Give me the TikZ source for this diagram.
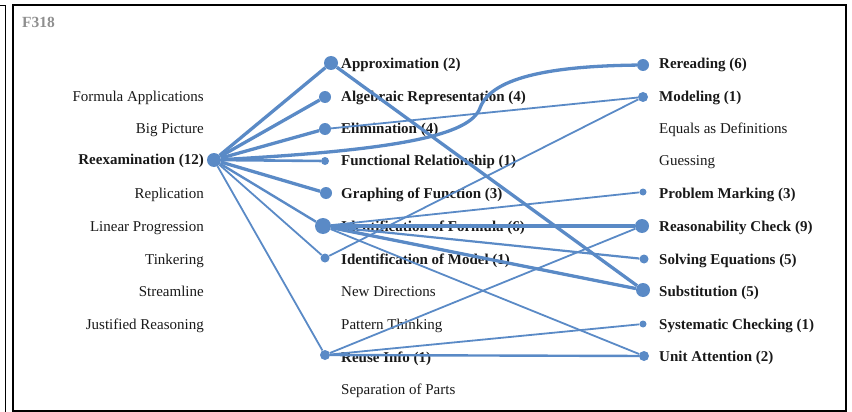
\documentclass[tikz,border=0pt]{standalone}
\usepackage{fontspec}
\setmainfont{Liberation Serif}
\usetikzlibrary{positioning}
\definecolor{cLink}{HTML}{5A8AC6}
\definecolor{cTag}{HTML}{8F8F8F}

\begin{document}
\begin{tikzpicture}[x=1pt, y=-1pt,
    lbl/.style={inner sep=0pt, yshift=-2.5pt, font=\fontsize{15}{17}\selectfont, text=black!90},
    lblL/.style={lbl, anchor=mid east},
    lblR/.style={lbl, anchor=mid west},
    hit/.style={font=\fontsize{15}{17}\selectfont\bfseries},
    dot/.style={circle, fill=cLink, inner sep=0pt, minimum size=#1},
    lnk/.style={draw=cLink, line width=1.8pt},
    lnkb/.style={draw=cLink, line width=3.3pt}
]
\useasboundingbox (0,0) rectangle (852,412);
% frames
\draw[line width=1.4pt] (0,5.5) -- (5.5,5.5) -- (5.5,412);
\draw[line width=2pt] (12.5,411) |- (846,5.5) -- (846,411) -- cycle;
\node[lblR, font=\fontsize{15.5}{17}\selectfont\bfseries, text=cTag] (tag) at (22,23) {F318};

% left column
\node[lblL] (fapp) at (204,97)  {Formula Applications};
\node[lblL] (bigp) at (204,129) {Big Picture};
\node[lblL, hit] (reexT) at (204,160) {Reexamination (12)};
\node[lblL] (repl) at (204,194) {Replication};
\node[lblL] (linp) at (204,227) {Linear Progression};
\node[lblL] (tink) at (204,260) {Tinkering};
\node[lblL] (strm) at (204,292) {Streamline};
\node[lblL] (just) at (204,325) {Justified Reasoning};

% middle column
\node[lblR, hit] (apprT) at (341,64)  {Approximation (2)};
\node[lblR, hit] (algT)  at (341,97)  {Algebraic Representation (4)};
\node[lblR, hit] (elimT) at (341,129) {Elimination (4)};
\node[lblR, hit] (funcT) at (341,161) {Functional Relationship (1)};
\node[lblR, hit] (grafT) at (341,194) {Graphing of Function (3)};
\node[lblR, hit] (idfT)  at (341,227) {Identification of Formula (6)};
\node[lblR, hit] (idmT)  at (341,260) {Identification of Model (1)};
\node[lblR] (newd) at (341,292) {New Directions};
\node[lblR] (patt) at (341,325) {Pattern Thinking};
\node[lblR, hit] (reuT)  at (341,358) {Reuse Info (1)};
\node[lblR] (sepp) at (341,390) {Separation of Parts};

% right column
\node[lblR, hit] (rereT) at (659,64)  {Rereading (6)};
\node[lblR, hit] (modT)  at (659,97)  {Modeling (1)};
\node[lblR] (eqdf) at (659,129) {Equals as Definitions};
\node[lblR] (gues) at (659,161) {Guessing};
\node[lblR, hit] (probT) at (659,194) {Problem Marking (3)};
\node[lblR, hit] (reasT) at (659,227) {Reasonability Check (9)};
\node[lblR, hit] (solvT) at (659,260) {Solving Equations (5)};
\node[lblR, hit] (subsT) at (659,292) {Substitution (5)};
\node[lblR, hit] (systT) at (659,325) {Systematic Checking (1)};
\node[lblR, hit] (unitT) at (659,357) {Unit Attention (2)};

% dots
\node[dot=14pt] (reex) at (214,160) {};
\node[dot=14pt] (appr) at (331,63)  {};
\node[dot=12pt] (alg)  at (325,97)  {};
\node[dot=12pt] (elim) at (325,129) {};
\node[dot=8pt]  (func) at (325,161) {};
\node[dot=12pt] (graf) at (326,193) {};
\node[dot=16pt] (idf)  at (323,226) {};
\node[dot=9pt]  (idm)  at (325,258) {};
\node[dot=10pt] (reu)  at (325,355) {};
\node[dot=12pt] (rere) at (643,65)  {};
\node[dot=10pt] (mod)  at (643,97)  {};
\node[dot=7pt]  (prob) at (643,192) {};
\node[dot=14pt] (reas) at (642,226) {};
\node[dot=9pt]  (solv) at (644,259) {};
\node[dot=14pt] (subs) at (643,290) {};
\node[dot=7pt]  (syst) at (643,324) {};
\node[dot=10pt] (unit) at (644,356) {};

% links
\foreach \n in {appr,alg,elim,graf} {
  \draw[lnkb] (reex) -- (\n);
}
\draw[lnk, line width=2.6pt] (reex) -- (func);
\draw[lnk, line width=2.4pt] (reex) -- (idf);
\foreach \n in {idm,reu} {
  \draw[lnk] (reex) -- (\n);
}
\draw[lnkb] (reex) .. controls (400,150) and (470,135) .. (480,108)
  .. controls (492,75) and (560,66) .. (rere);
\draw[lnk] (elim) -- (mod);
\draw[lnk] (idm) -- (mod);
\draw[lnkb] (appr) -- (subs);
\draw[lnkb] (idf) -- (reas);
\draw[lnkb] (idf) -- (subs);
\draw[lnk, line width=2.2pt] (idf) -- (solv);
\foreach \n in {prob,unit} {
  \draw[lnk] (idf) -- (\n);
}
\foreach \n in {reas,syst} {
  \draw[lnk] (reu) -- (\n);
}
\draw[lnk, line width=2.4pt] (reu) -- (unit);
\end{tikzpicture}
\end{document}
